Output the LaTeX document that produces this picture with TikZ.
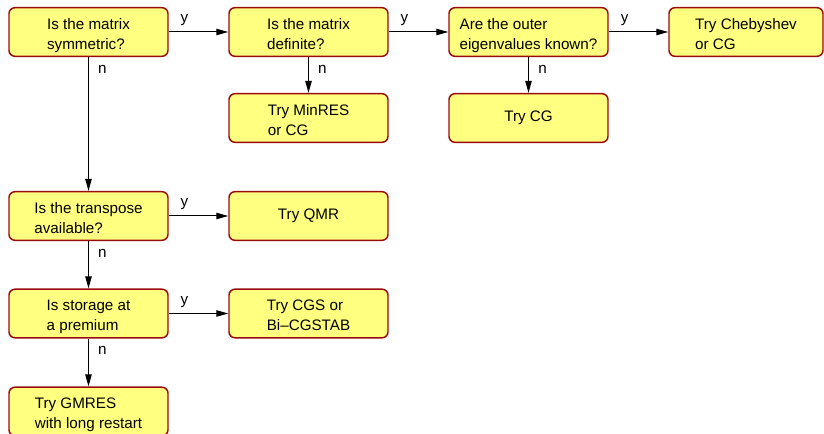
\documentclass[tikz,border=0pt]{standalone}
\usepackage{fontspec}
\setmainfont{Liberation Sans}
\usetikzlibrary{arrows.meta,positioning}
\definecolor{boxfill}{RGB}{255,255,128}
\definecolor{boxline}{RGB}{155,10,10}
\newcommand{\topst}{\rule{0pt}{14pt}}
\newcommand{\botst}{\rule[-3pt]{0pt}{3pt}}

\begin{document}
\begin{tikzpicture}[x=0.75pt,y=0.75pt,
every node/.style={font=\fontsize{11.4}{15}\selectfont},
qbox/.style={rectangle,rounded corners=4.5pt,draw=boxline,fill=boxfill,
  line width=1.1pt,minimum width=119.25pt,minimum height=36.5pt,
  inner ysep=1pt,align=left},
arr/.style={-{Triangle[length=9pt,width=4.8pt]},line width=0.75pt},
ylbl/.style={pos=0,anchor=south west,xshift=5.3pt,yshift=1pt},
nlbl/.style={pos=0,anchor=north west,xshift=3.6pt,yshift=-2.3pt}]
\useasboundingbox (0,0) rectangle (824,-434);
\node[qbox] (sym) at (88.5,-32) {\topst Is the matrix\\symmetric?\botst};
\node[qbox] (defn) at (308.5,-32) {\topst Is the matrix\\definite?\botst};
\node[qbox] (outer) at (528.5,-32) {\topst Are the outer\\eigenvalues known?\botst};
\node[qbox,minimum width=115.5pt] (cheb) at (746,-32) {\topst Try Chebyshev\\or CG\botst};
\node[qbox] (minres) at (308.5,-118) {\topst Try MinRES\\or CG\botst};
\node[qbox] (trycg) at (528.5,-118) {Try CG};
\node[qbox] (transp) at (88.5,-216) {\topst Is the transpose\\available?\botst};
\node[qbox] (qmr) at (308.5,-216) {Try QMR};
\node[qbox] (storage) at (88.5,-313.5) {\topst Is storage at\\a premium\botst};
\node[qbox] (cgs) at (308.5,-313.5) {\topst Try CGS or\\Bi--CGSTAB\botst};
\node[qbox] (gmres) at (88.5,-411.5) {\topst Try GMRES\\with long restart\botst};
\draw[arr] (sym) -- node[ylbl] {y} (defn);
\draw[arr] (defn) -- node[ylbl] {y} (outer);
\draw[arr] (outer) -- node[ylbl] {y} (cheb);
\draw[arr] (defn) -- node[nlbl] {n} (minres);
\draw[arr] (outer) -- node[nlbl] {n} (trycg);
\draw[arr] (sym) -- node[nlbl] {n} (transp);
\draw[arr] (transp) -- node[ylbl] {y} (qmr);
\draw[arr] (transp) -- node[nlbl] {n} (storage);
\draw[arr] (storage) -- node[ylbl] {y} (cgs);
\draw[arr] (storage) -- node[nlbl] {n} (gmres);
\end{tikzpicture}
\end{document}
